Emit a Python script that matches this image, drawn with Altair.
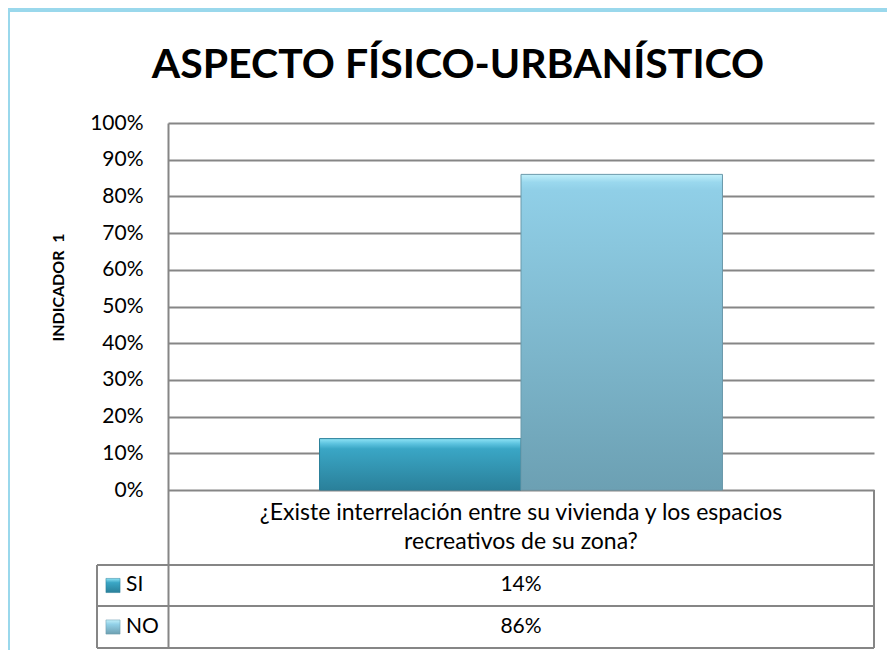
import altair as alt
import pandas as pd

# ---- data ----
series = ["SI", "NO"]
values = [0.14, 0.86]
value_labels = ["14%", "86%"]
question = "¿Existe interrelación entre su vivienda y los espacios\nrecreativos de su zona?"
title_text = "ASPECTO FÍSICO-URBANÍSTICO"
y_title = "INDICADOR\u00a0 1"
y_ticks = [0, 0.1, 0.2, 0.3, 0.4, 0.5, 0.6, 0.7, 0.8, 0.9, 1.0]

# layout helpers for the data table drawn below the axis (in axis units)
table_bottom = -0.4305
row_top = -0.2044
row_edges = [-0.2044, -0.3161, -0.4305]
row_centers = [-0.2602, -0.3733]
header_baseline = -0.0817

W, H = 706, 525
FONT = "Lato"
GRID = "#868686"

bars_df = pd.DataFrame({"serie": series, "valor": values})
rows_df = pd.DataFrame({"serie": series, "label": value_labels, "yc": row_centers})
edges_df = pd.DataFrame({"y": row_edges})
one = pd.DataFrame({"a": [0]})

xscale = alt.Scale(domain=series, paddingInner=0, paddingOuter=0.752)
yscale = alt.Scale(domain=[table_bottom, 1.0], nice=False, zero=False)

yaxis = alt.Axis(
    values=y_ticks, format=".0%", grid=True, gridColor=GRID, gridWidth=2,
    domainColor=GRID, domainWidth=2, ticks=False, labelPadding=25,
    labelFont=FONT, labelFontSize=21, labelColor="#000000",
    title=y_title, titleFont=FONT, titleFontSize=16, titleFontWeight="bold",
    titleColor="#000000", titleX=-102, titleY=164,
)

def grad(stops):
    return alt.Gradient(
        gradient="linear", x1=0, y1=0, x2=0, y2=1,
        stops=[alt.GradientStop(color=c, offset=o) for o, c in stops],
    )

si_grad = grad([(0, "#8fe3f5"), (0.1, "#5cc3df"), (0.2, "#3aa6c5"), (1, "#2a809a")])
no_grad = grad([(0, "#c2f0fa"), (0.025, "#9ad8ee"), (0.05, "#90cfe7"), (1, "#6ca0b3")])

base_bar = alt.Chart(bars_df).encode(
    x=alt.X("serie:N", scale=xscale, axis=None, sort=series),
    y=alt.Y("valor:Q", scale=yscale, axis=yaxis),
    y2=alt.datum(0),
)
bar_si = base_bar.transform_filter(alt.datum.serie == "SI").mark_bar(
    fill=si_grad, stroke="#2a7f99", strokeWidth=1)
bar_no = base_bar.transform_filter(alt.datum.serie == "NO").mark_bar(
    fill=no_grad, stroke="#6a99aa", strokeWidth=1)

# frame
frame = alt.Chart(one).mark_rect(fill=None, stroke="#9ad8ec", strokeWidth=4).encode(
    x=alt.value(-160), x2=alt.value(W + 40), y=alt.value(-113), y2=alt.value(H + 40))

# title
title = alt.Chart(one).mark_text(
    font=FONT, fontSize=41, fontWeight="bold", color="#000000",
    align="center", baseline="alphabetic",
).encode(x=alt.value(290), y=alt.value(-45), text=alt.value(title_text))

# table lines
hlines = alt.Chart(edges_df).mark_rule(color=GRID, strokeWidth=2).encode(
    y=alt.Y("y:Q", scale=yscale), x=alt.value(-71), x2=alt.value(W))
vline = alt.Chart(one).mark_rule(color=GRID, strokeWidth=2).encode(
    x=alt.value(W), y=alt.datum(0, scale=yscale), y2=alt.datum(table_bottom))
vline_left = alt.Chart(one).mark_rule(color=GRID, strokeWidth=2).encode(
    x=alt.value(-71), y=alt.datum(row_top, scale=yscale), y2=alt.datum(table_bottom))

header = alt.Chart(one).mark_text(
    font=FONT, fontSize=23, color="#000000", lineBreak="\n", lineHeight=29,
    align="center", baseline="alphabetic",
).encode(x=alt.value(W / 2), y=alt.datum(header_baseline, scale=yscale),
         text=alt.value(question))

row_vals = alt.Chart(rows_df).mark_text(
    font=FONT, fontSize=21, color="#000000", align="center", baseline="middle",
).encode(x=alt.value(W / 2), y=alt.Y("yc:Q", scale=yscale), text="label:N")

row_names = alt.Chart(rows_df).mark_text(
    font=FONT, fontSize=21, color="#000000", align="left", baseline="middle",
).encode(x=alt.value(-42), y=alt.Y("yc:Q", scale=yscale), text="serie:N")

swatch_si = alt.Chart(rows_df).transform_filter(alt.datum.serie == "SI").mark_square(
    size=200, fill=grad([(0, "#8fe3f5"), (0.3, "#3aa6c5"), (1, "#2a809a")]),
    opacity=1, stroke="#2a7f99", strokeWidth=0.5,
).encode(x=alt.value(-55), y=alt.Y("yc:Q", scale=yscale))
swatch_no = alt.Chart(rows_df).transform_filter(alt.datum.serie == "NO").mark_square(
    size=200, fill=grad([(0, "#c2f0fa"), (0.3, "#92d1e8"), (1, "#6ea0b2")]),
    opacity=1, stroke="#6a99aa", strokeWidth=0.5,
).encode(x=alt.value(-55), y=alt.Y("yc:Q", scale=yscale))

chart = alt.layer(
    bar_si, bar_no, frame, title, hlines, vline, vline_left, header, row_vals,
    row_names, swatch_si, swatch_no,
).properties(
    width=W, height=H,
    autosize=alt.AutoSizeParams(type="none"),
    padding={"left": 160, "top": 115, "right": 13, "bottom": 2},
    background="#ffffff",
).configure_view(stroke=None)

chart.save("out.html", embed_options={"renderer": "svg", "actions": False})
